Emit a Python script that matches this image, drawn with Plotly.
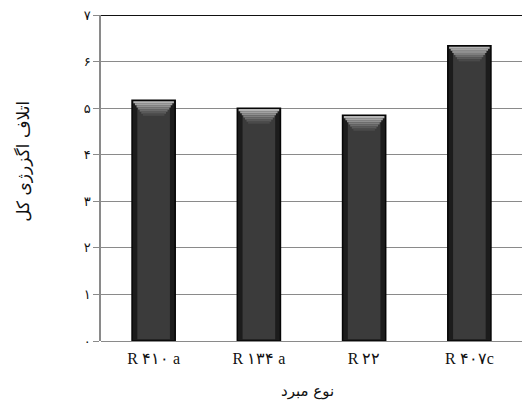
import plotly.graph_objects as go

categories = ["R ۴۱۰ a", "R ۱۳۴ a", "R ۲۲", "R ۴۰۷c"]
values = [5.17, 5.0, 4.85, 6.34]
y_tickvals = [0, 1, 2, 3, 4, 5, 6, 7]
y_ticktext = ["۰", "۱", "۲", "۳", "۴", "۵", "۶", "۷"]
x_title = "نوع مبرد"
y_title = "اتلاف اگزرژی کل"

fig = go.Figure()
# outer (dark edges) bar
fig.add_trace(go.Bar(
    x=categories, y=values, width=0.41,
    marker=dict(color="#1c1c1c", line=dict(color="#050505", width=1.5)),
    showlegend=False, hoverinfo="skip",
))
# lighter body in the middle
fig.add_trace(go.Bar(
    x=categories, y=[v - 0.08 for v in values], base=[0.04] * len(values), width=0.31,
    marker=dict(color="#3b3b3b", line=dict(width=0)),
    showlegend=False, hoverinfo="skip",
))
# bevel highlight (stepped trapezoid) on top of each bar
steps = 7
step_h = 0.045
widths = [0.385, 0.355, 0.325, 0.295, 0.265, 0.235, 0.205]
colors = ["#b4b4b4", "#a2a2a2", "#909090", "#7e7e7e", "#6c6c6c", "#5a5a5a", "#4a4a4a"]
for i in range(steps):
    fig.add_trace(go.Bar(
        x=categories, y=[step_h] * len(values),
        base=[v - 0.02 - step_h * (i + 1) for v in values], width=widths[i],
        marker=dict(color=colors[i], line=dict(width=0)),
        showlegend=False, hoverinfo="skip",
    ))
fig.update_layout(
    barmode="overlay",
    width=522, height=408,
    margin=dict(l=101, r=0, t=15, b=67, autoexpand=False),
    plot_bgcolor="white", paper_bgcolor="white",
    xaxis=dict(
        showgrid=False, showline=False, zeroline=False, ticks="",
        tickfont=dict(family="Liberation Serif", size=16, color="#111"),
        ticklabelstandoff=6, automargin=False,
    ),
    yaxis=dict(
        range=[0, 7], tickvals=y_tickvals, ticktext=y_ticktext,
        showgrid=True, gridcolor="#8a8a8a", gridwidth=1,
        showline=True, linecolor="#8a8a8a", linewidth=1.5,
        ticks="outside", ticklen=6, tickcolor="#8a8a8a",
        zeroline=True, zerolinecolor="#8a8a8a", zerolinewidth=1,
        tickfont=dict(family="DejaVu Sans", size=13, color="#111"),
        automargin=False,
    ),
    shapes=[dict(type="line", xref="paper", yref="y", x0=0, x1=1, y0=7, y1=7,
                 line=dict(color="#111", width=2))],
    annotations=[
        dict(text=x_title, xref="paper", yref="paper", x=0.49, y=-0.12,
             xanchor="center", yanchor="top", showarrow=False,
             font=dict(family="DejaVu Sans", size=15, color="#111")),
        dict(text=y_title, xref="paper", yref="paper", x=-0.185, y=0.55,
             xanchor="center", yanchor="middle", showarrow=False, textangle=-90,
             font=dict(family="DejaVu Sans", size=17, color="#111")),
    ],
)
fig.write_html("out.html", config={"displayModeBar": False},
               post_script="document.body.style.margin='0';document.body.style.overflow='hidden';")
